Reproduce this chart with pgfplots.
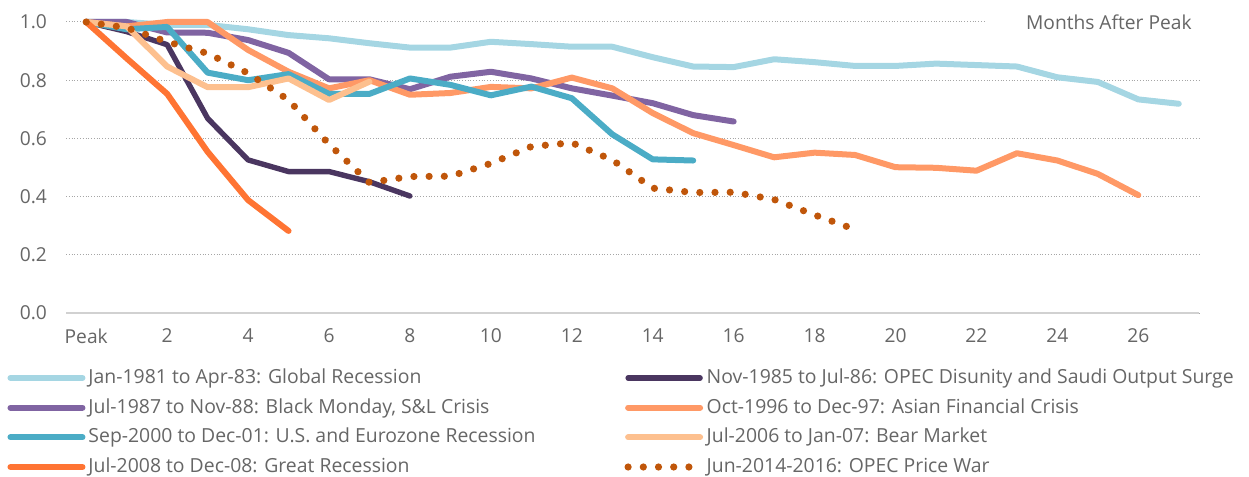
\documentclass[border=0pt]{standalone}
\usepackage{fontspec}
\setmainfont{Open Sans}
\usepackage{pgfplots}
\pgfplotsset{compat=1.18}
\usepackage{pgfplotstable}
\definecolor{cGlobal}{HTML}{A5D6E3}
\definecolor{cDisunity}{HTML}{4A3660}
\definecolor{cMonday}{HTML}{8064A2}
\definecolor{cAsian}{HTML}{FF9966}
\definecolor{cUS}{HTML}{4BACC6}
\definecolor{cBear}{HTML}{FDC08F}
\definecolor{cGreat}{HTML}{FF7433}
\definecolor{cWar}{HTML}{C0560A}
\definecolor{txt}{HTML}{666666}
\pgfplotstableread{
m v
0 1.0
1 1.0
2 0.99
3 0.99
4 0.975
5 0.955
6 0.944
7 0.927
8 0.912
9 0.912
10 0.932
11 0.924
12 0.915
13 0.915
14 0.879
15 0.847
16 0.845
17 0.872
18 0.862
19 0.849
20 0.849
21 0.857
22 0.852
23 0.847
24 0.810
25 0.794
26 0.734
27 0.719
}\tGlobal
\pgfplotstableread{
m v
0 1.0
1 0.967
2 0.922
3 0.669
4 0.526
5 0.486
6 0.486
7 0.451
8 0.402
}\tDisunity
\pgfplotstableread{
m v
0 1.0
1 1.0
2 0.964
3 0.963
4 0.938
5 0.894
6 0.803
7 0.803
8 0.769
9 0.812
10 0.829
11 0.806
12 0.772
13 0.747
14 0.721
15 0.680
16 0.658
}\tMonday
\pgfplotstableread{
m v
0 1.0
1 0.985
2 1.0
3 1.0
4 0.904
5 0.829
6 0.772
7 0.800
8 0.750
9 0.756
10 0.777
11 0.772
12 0.809
13 0.772
14 0.687
15 0.618
16 0.577
17 0.535
18 0.551
19 0.543
20 0.501
21 0.499
22 0.489
23 0.549
24 0.524
25 0.478
26 0.405
}\tAsian
\pgfplotstableread{
m v
0 1.0
1 0.975
2 0.983
3 0.826
4 0.800
5 0.821
6 0.753
7 0.753
8 0.806
9 0.784
10 0.748
11 0.778
12 0.738
13 0.614
14 0.528
15 0.524
}\tUS
\pgfplotstableread{
m v
0 1.0
1 0.985
2 0.847
3 0.776
4 0.776
5 0.806
6 0.732
7 0.795
}\tBear
\pgfplotstableread{
m v
0 1.0
1 0.875
2 0.753
3 0.554
4 0.388
5 0.282
}\tGreat
\pgfplotstableread{
m v
0 1.0
1 0.980
2 0.932
3 0.892
4 0.824
5 0.732
6 0.580
7 0.448
8 0.469
9 0.470
10 0.514
11 0.572
12 0.585
13 0.526
14 0.429
15 0.414
16 0.415
17 0.390
18 0.337
18.8 0.297
}\tWar
\begin{document}
\begin{tikzpicture}
\begin{axis}[
  name=ax,
  width=566.5bp, height=145.5bp, scale only axis,
  xmin=-0.5, xmax=27.5, ymin=0, ymax=1.0,
  clip=false,
  axis lines*=left,
  y axis line style={draw=none},
  x axis line style={draw=black!18, line width=1.2bp},
  major tick length=0pt,
  xtick={0,2,...,26},
  xticklabels={Peak,2,4,6,8,10,12,14,16,18,20,22,24,26},
  ytick={0,0.2,...,1.0},
  yticklabel style={/pgf/number format/.cd,fixed,fixed zerofill,precision=1,/tikz/.cd, xshift=-6bp},
  xticklabel style={yshift=-4.5bp},
  /pgf/number format/assume math mode=true,
  ticklabel style={font=\fontsize{9.6bp}{11bp}\selectfont, text=txt},
  ymajorgrids,
  grid style={densely dotted, black!35, line width=0.5bp},
  every axis plot/.append style={line width=3bp, line join=round, line cap=round},
  legend columns=2,
  legend cell align=left,
  legend style={draw=none, fill=none, inner sep=0pt, at={(axis description cs:-0.052,-0.189)}, anchor=north west,
    font=\fontsize{9.7bp}{11bp}\selectfont, text=txt,
    nodes={inner sep=0pt, text height=7.5bp, text depth=2bp},
    row sep=5.35bp,
    /tikz/every odd column/.append style={column sep=1.5bp},
    /tikz/every even column/.append style={column sep=44.5bp}},
  legend image code/.code={\draw[#1] (0bp,0bp) -- (36bp,0bp);},
]
\addplot[cGlobal] table[x=m,y=v] {\tGlobal};
\addlegendentry{Jan-1981 to Apr-83: Global Recession}
\addplot[cDisunity, line width=2.7bp] table[x=m,y=v] {\tDisunity};
\addlegendentry{Nov-1985 to Jul-86: OPEC Disunity and Saudi Output Surge}
\addplot[cMonday] table[x=m,y=v] {\tMonday};
\addlegendentry{Jul-1987 to Nov-88: Black Monday, S\&L Crisis}
\addplot[cAsian] table[x=m,y=v] {\tAsian};
\addlegendentry{Oct-1996 to Dec-97: Asian Financial Crisis}
\addplot[cUS] table[x=m,y=v] {\tUS};
\addlegendentry{Sep-2000 to Dec-01: U.S. and Eurozone Recession}
\addplot[cBear] table[x=m,y=v] {\tBear};
\addlegendentry{Jul-2006 to Jan-07: Bear Market}
\addplot[cGreat] table[x=m,y=v] {\tGreat};
\addlegendentry{Jul-2008 to Dec-08: Great Recession}
\addplot[cWar, line width=3.6bp, dash pattern=on 0pt off 7.6bp] table[x=m,y=v] {\tWar};
\addlegendentry{Jun-2014-2016: OPEC Price War}
\node[anchor=east, fill=white, inner xsep=20bp, inner ysep=2bp, text=txt, font=\fontsize{9.6bp}{11bp}\selectfont] at ([xshift=16.5bp]axis cs:27.5,1.0) {Months After Peak};
\end{axis}
\pgfresetboundingbox
\path ([shift={(-33bp,-82bp)}]ax.south west) rectangle ([shift={(25bp,11bp)}]ax.north east);
\end{tikzpicture}
\end{document}
